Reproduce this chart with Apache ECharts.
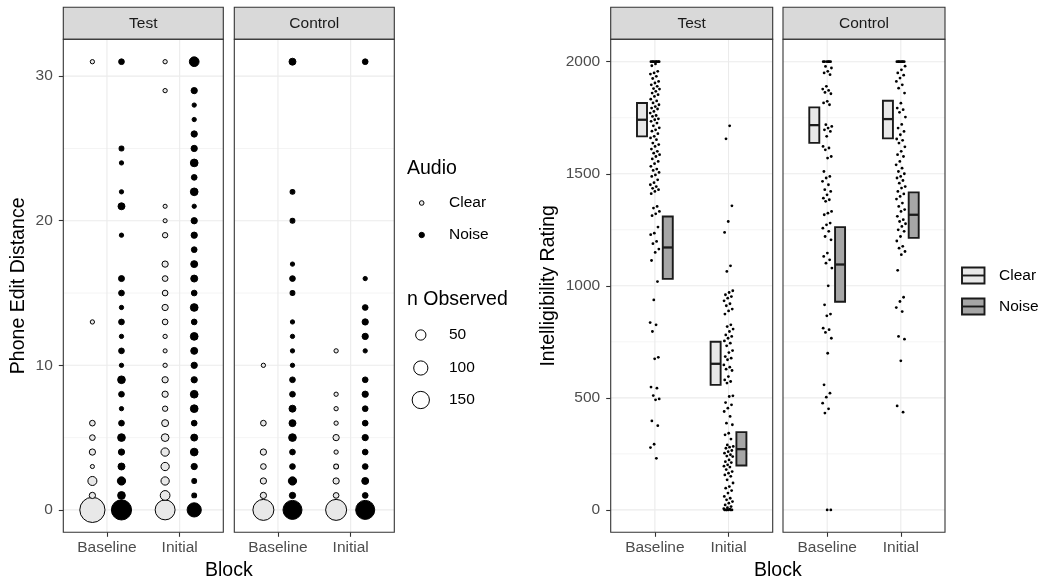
<!DOCTYPE html>
<html>
<head>
<meta charset="utf-8">
<script src="https://cdn.jsdelivr.net/npm/echarts@6/dist/echarts.min.js"></script>
<style>
  html, body { margin: 0; padding: 0; background: #ffffff; }
  #chart { width: 1041px; height: 584px; }
</style>
</head>
<body>
<div id="chart"></div>
<script>
// ---- data ---------------------------------------------------------------
const blocks = ['Baseline', 'Initial'];
const groups = ['Test', 'Control'];
const audio = ['Clear', 'Noise'];
const editTicks = [0, 10, 20, 30];
const editMinor = [5, 15, 25];
const ratingTicks = [0, 500, 1000, 1500, 2000];
const ratingMinor = [250, 750, 1250, 1750];
const sizeBreaks = [50, 100, 150];

// Phone edit distance: [distance, n observed]
const testBaselineClear = [[0,320],[1,14],[2,37],[3,1],[4,14],[5,10],[6,10],[13,2],[31,2]];
const testBaselineNoise = [[0,205],[1,25],[2,30],[3,19],[4,14],[5,25],[6,10],[7,2],[8,10],[9,25],[10,2],[11,10],[12,2],[13,10],[14,2],[15,10],[16,12],[19,2],[21,19],[22,2],[24,2],[25,5],[31,10]];
const testInitialClear = [[0,200],[1,44],[2,30],[3,30],[4,30],[5,25],[6,19],[7,8],[8,14],[9,14],[10,2],[11,1],[12,2],[13,10],[14,14],[15,10],[16,10],[17,14],[19,8],[20,1],[21,1],[29,2],[31,2]];
const testInitialNoise = [[0,100],[1,5],[2,5],[3,14],[4,25],[5,19],[6,10],[7,25],[8,25],[9,14],[10,14],[11,19],[12,25],[13,10],[14,25],[15,10],[16,19],[17,19],[18,10],[19,14],[20,14],[21,2],[22,25],[23,10],[24,25],[25,14],[26,14],[27,2],[28,2],[29,14],[31,44]];
const controlBaselineClear = [[0,222],[1,14],[2,14],[3,10],[4,14],[6,10],[10,2]];
const controlBaselineNoise = [[0,182],[1,14],[2,30],[3,10],[4,10],[5,25],[6,19],[7,19],[8,10],[9,10],[10,2],[11,2],[12,2],[13,2],[15,5],[16,10],[17,2],[20,5],[22,5],[31,19]];
const controlInitialClear = [[0,222],[1,10],[2,14],[3,5],[4,2],[5,14],[6,2],[7,2],[8,2],[11,2]];
const controlInitialNoise = [[0,182],[1,10],[2,19],[3,10],[4,10],[5,14],[6,10],[7,10],[8,14],[9,10],[11,2],[12,14],[13,14],[14,10],[16,2],[31,10]];

// Individual intelligibility ratings
const testBaselineRatings = [2000,2000,2000,2000,2000,2000,2000,2000,1990,1982,1957,1950,1945,1935,1925,1912,1905,1897,1890,1880,1878,1868,1860,1853,1845,1833,1825,1816,1808,1800,1793,1789,1778,1771,1760,1756,1745,1741,1734,1726,1714,1705,1696,1690,1679,1667,1660,1652,1637,1630,1622,1610,1600,1592,1585,1577,1566,1555,1545,1533,1521,1515,1506,1495,1488,1473,1460,1451,1443,1435,1429,1421,1411,1354,1347,1332,1321,1313,1262,1235,1228,1198,1188,1164,1149,1113,1019,937,836,826,796,681,674,548,543,510,495,491,397,376,293,278,230];
const testInitialRatings = [1714,1656,1357,1287,1238,1089,1064,978,970,960,952,945,933,920,911,896,888,874,826,818,807,796,781,774,766,754,744,732,711,702,684,677,670,647,637,628,622,595,580,573,566,509,506,479,469,454,439,417,387,380,342,335,316,290,283,280,275,265,260,253,246,240,238,223,215,211,201,195,191,180,171,164,156,150,134,120,104,97,86,75,60,52,45,37,30,22,15,10,5,3,0,0,0,0,0,0];
const controlBaselineRatings = [2000,2000,2000,2000,2000,2000,1979,1972,1957,1950,1942,1890,1878,1872,1863,1857,1823,1816,1808,1719,1711,1704,1696,1689,1667,1622,1615,1607,1577,1570,1510,1488,1481,1466,1451,1429,1421,1406,1391,1384,1377,1332,1324,1317,1280,1272,1257,1243,1220,1205,1146,1131,1116,1101,1079,1000,915,874,866,811,804,792,766,699,558,521,503,476,451,432,0,0];
const controlInitialRatings = [2000,2000,2000,2000,2000,2000,2000,1980,1964,1950,1940,1927,1912,1897,1882,1860,1815,1793,1786,1774,1753,1720,1704,1689,1674,1655,1649,1637,1620,1600,1585,1577,1555,1540,1525,1510,1500,1488,1481,1470,1458,1443,1436,1421,1410,1399,1387,1369,1354,1340,1332,1310,1295,1287,1277,1265,1250,1243,1220,1200,1176,1168,1153,1139,1069,949,930,903,885,774,762,665,464,436];

// Crossbar summaries: [middle, lower, upper]
const testBaselineClearBar = [1741, 1667, 1816];
const testBaselineNoiseBar = [1171, 1031, 1309];
const testInitialClearBar = [652, 558, 750];
const testInitialNoiseBar = [271, 198, 347];
const controlBaselineClearBar = [1717, 1638, 1796];
const controlBaselineNoiseBar = [1095, 929, 1262];
const controlInitialClearBar = [1744, 1658, 1826];
const controlInitialNoiseBar = [1317, 1214, 1417];

// ---- layout & style -----------------------------------------------------
const FONT = '"Liberation Sans", Arial, Helvetica, sans-serif';
const PANEL_TOP = 39.3, PANEL_H = 493, STRIP_TOP = 7.3;
const leftPanels = [{ left: 63.3, width: 160 }, { left: 234.3, width: 160 }];
const rightPanels = [{ left: 610.7, width: 162 }, { left: 783, width: 162 }];
const panels = leftPanels.concat(rightPanels);
const CLEAR_FILL = '#E8E8E8', NOISE_FILL = '#000000';
const BAR_CLEAR = '#E8E8E8', BAR_NOISE = '#A6A6A6';
const DODGE_PT = 0.2, DODGE_BAR = 0.175, BAR_HALF = 0.068, JITTER = 0.065;

// outer diameter of a count marker (area grows with n)
const obsSize = n => Math.sqrt(24 + 2.07 * n);
// spread rating dots sideways around the block position
const jitter = i => ((((i + 1) * 0.6180339887) % 1) - 0.5) * 2 * JITTER;

const countPoints = (rows, block, offset) => rows.map(([d, n]) => [block + offset, d, n]);
const ratingPoints = (vals, block) => vals.map((v, i) => [block + jitter(i), v]);

// ---- axes ---------------------------------------------------------------
function xAxisFor(gridIndex) {
  return {
    type: 'value', gridIndex, min: 0.4, max: 2.6, position: 'bottom',
    splitLine: { show: false }, axisLine: { show: false, onZero: false },
    axisTick: { show: true, customValues: [1, 2], length: 4.5, lineStyle: { color: '#333333', width: 1.1 } },
    axisLabel: { show: true, customValues: [1, 2], formatter: v => blocks[Math.round(v) - 1],
      color: '#4D4D4D', fontSize: 15.5, fontFamily: FONT, margin: 7 }
  };
}
function yAxisFor(gridIndex, min, max, ticks, showLabels) {
  return {
    type: 'value', gridIndex, min, max, position: 'left',
    splitLine: { show: false }, axisLine: { show: false, onZero: false },
    axisTick: { show: showLabels, customValues: ticks, length: 4.5, lineStyle: { color: '#333333', width: 1.1 } },
    axisLabel: { show: showLabels, customValues: ticks, formatter: v => String(v),
      color: '#4D4D4D', fontSize: 15.5, fontFamily: FONT, margin: 10.5 }
  };
}

// background grid lines: each row is [x, y, vertical?, major?]; the line passes through (x, y)
function gridLineSeries(idx, major, minor, yMid) {
  const rows = [[1, yMid, 1, 1], [2, yMid, 1, 1]]
    .concat(major.map(v => [1.5, v, 0, 1]))
    .concat(minor.map(v => [1.5, v, 0, 0]));
  return {
    type: 'custom', xAxisIndex: idx, yAxisIndex: idx, z: 1, silent: true,
    data: rows,
    renderItem: (params, api) => {
      const cs = params.coordSys;
      const p = api.coord([api.value(0), api.value(1)]);
      const width = api.value(3) ? 1.1 : 0.55;
      const shape = api.value(2)
        ? { x1: p[0], y1: cs.y, x2: p[0], y2: cs.y + cs.height }
        : { x1: cs.x, y1: p[1], x2: cs.x + cs.width, y2: p[1] };
      return { type: 'line', shape, style: { stroke: '#EBEBEB', lineWidth: width } };
    }
  };
}

function countSeries(idx, rowsB, rowsI, offset, fill) {
  return {
    type: 'scatter', xAxisIndex: idx, yAxisIndex: idx, z: 3, silent: true,
    data: countPoints(rowsB, 1, offset).concat(countPoints(rowsI, 2, offset)),
    symbol: 'circle',
    symbolSize: v => obsSize(v[2]) - 1,
    itemStyle: { color: fill, borderColor: '#000000', borderWidth: 1, opacity: 1 }
  };
}

function dotSeries(idx, valsB, valsI) {
  return {
    type: 'scatter', xAxisIndex: idx, yAxisIndex: idx, z: 3, silent: true,
    data: ratingPoints(valsB, 1).concat(ratingPoints(valsI, 2)),
    symbol: 'circle', symbolSize: 2.8,
    itemStyle: { color: '#000000', opacity: 1 }
  };
}

function barSeries(idx, bars) {
  return {
    type: 'custom', xAxisIndex: idx, yAxisIndex: idx, z: 4, silent: true,
    data: bars,
    renderItem: (params, api) => {
      const x = api.value(0), mid = api.value(1), lo = api.value(2), hi = api.value(3);
      const fill = api.value(4) === 0 ? BAR_CLEAR : BAR_NOISE;
      const a = api.coord([x - BAR_HALF, hi]);
      const b = api.coord([x + BAR_HALF, lo]);
      const m1 = api.coord([x - BAR_HALF, mid]);
      const m2 = api.coord([x + BAR_HALF, mid]);
      return {
        type: 'group',
        children: [
          { type: 'rect', shape: { x: a[0], y: a[1], width: b[0] - a[0], height: b[1] - a[1] },
            style: { fill, stroke: '#1A1A1A', lineWidth: 1.9 } },
          { type: 'line', shape: { x1: m1[0], y1: m1[1], x2: m2[0], y2: m2[1] },
            style: { stroke: '#1A1A1A', lineWidth: 2.3 } }
        ]
      };
    }
  };
}
const barRow = (block, offset, stats, a) => [block + offset, stats[0], stats[1], stats[2], a];

// ---- frame, strips, titles, legends --------------------------------------
const graphics = [];
const stripLabels = groups.concat(groups);
panels.forEach((p, i) => {
  graphics.push({ type: 'rect', silent: true, z: 100,
    shape: { x: p.left, y: STRIP_TOP, width: p.width, height: PANEL_TOP - STRIP_TOP },
    style: { fill: '#D9D9D9', stroke: '#333333', lineWidth: 1.1 } });
  graphics.push({ type: 'text', silent: true, z: 101, x: p.left + p.width / 2, y: (STRIP_TOP + PANEL_TOP) / 2 + 0.5,
    style: { text: stripLabels[i], fill: '#1A1A1A', font: '15.5px ' + FONT, align: 'center', verticalAlign: 'middle' } });
  graphics.push({ type: 'rect', silent: true, z: 100,
    shape: { x: p.left, y: PANEL_TOP, width: p.width, height: PANEL_H },
    style: { fill: 'none', stroke: '#333333', lineWidth: 1.1 } });
});
const titleFont = '19.5px ' + FONT;
const midY = PANEL_TOP + PANEL_H / 2;
graphics.push({ type: 'text', silent: true, x: 19, y: midY, rotation: Math.PI / 2,
  style: { text: 'Phone Edit Distance', fill: '#000000', font: titleFont, align: 'center', verticalAlign: 'middle' } });
graphics.push({ type: 'text', silent: true, x: 548.5, y: midY, rotation: Math.PI / 2,
  style: { text: 'Intelligibility Rating', fill: '#000000', font: titleFont, align: 'center', verticalAlign: 'middle' } });
graphics.push({ type: 'text', silent: true, x: (leftPanels[0].left + leftPanels[1].left + leftPanels[1].width) / 2, y: 571,
  style: { text: 'Block', fill: '#000000', font: titleFont, align: 'center', verticalAlign: 'middle' } });
graphics.push({ type: 'text', silent: true, x: (rightPanels[0].left + rightPanels[1].left + rightPanels[1].width) / 2, y: 571,
  style: { text: 'Block', fill: '#000000', font: titleFont, align: 'center', verticalAlign: 'middle' } });

// Audio / n Observed legend
const legFont = '15.5px ' + FONT;
graphics.push({ type: 'text', silent: true, x: 407, y: 169,
  style: { text: 'Audio', fill: '#000000', font: titleFont, align: 'left', verticalAlign: 'middle' } });
[[CLEAR_FILL, 203, 5.6], [NOISE_FILL, 235, 6.4]].forEach(([fill, y, d], i) => {
  graphics.push({ type: 'circle', silent: true, shape: { cx: 421.7, cy: y, r: (d - 1) / 2 },
    style: { fill, stroke: '#000000', lineWidth: 1 } });
  graphics.push({ type: 'text', silent: true, x: 449, y,
    style: { text: audio[i], fill: '#000000', font: legFont, align: 'left', verticalAlign: 'middle' } });
});
graphics.push({ type: 'text', silent: true, x: 407, y: 300,
  style: { text: 'n Observed', fill: '#000000', font: titleFont, align: 'left', verticalAlign: 'middle' } });
sizeBreaks.forEach((n, i) => {
  const y = [335, 368, 400][i];
  graphics.push({ type: 'circle', silent: true, shape: { cx: 420.8, cy: y, r: (obsSize(n) - 1) / 2 },
    style: { fill: '#FFFFFF', stroke: '#000000', lineWidth: 1 } });
  graphics.push({ type: 'text', silent: true, x: 449, y,
    style: { text: String(n), fill: '#000000', font: legFont, align: 'left', verticalAlign: 'middle' } });
});

// crossbar legend
[[BAR_CLEAR, 275.5], [BAR_NOISE, 306.5]].forEach(([fill, y], i) => {
  graphics.push({ type: 'rect', silent: true, shape: { x: 962, y: y - 8, width: 22.5, height: 16 },
    style: { fill, stroke: '#1A1A1A', lineWidth: 1.9 } });
  graphics.push({ type: 'line', silent: true, shape: { x1: 962, y1: y, x2: 984.5, y2: y },
    style: { stroke: '#1A1A1A', lineWidth: 1.9 } });
  graphics.push({ type: 'text', silent: true, x: 999, y,
    style: { text: audio[i], fill: '#000000', font: legFont, align: 'left', verticalAlign: 'middle' } });
});

// ---- chart --------------------------------------------------------------
const chart = echarts.init(document.getElementById('chart'), null, { renderer: 'canvas' });
chart.setOption({
  animation: false,
  backgroundColor: '#ffffff',
  textStyle: { fontFamily: FONT },
  grid: panels.map(p => ({ left: p.left, top: PANEL_TOP, width: p.width, height: PANEL_H, show: false })),
  xAxis: [0, 1, 2, 3].map(xAxisFor),
  yAxis: [
    yAxisFor(0, -1.55, 32.55, editTicks, true),
    yAxisFor(1, -1.55, 32.55, editTicks, false),
    yAxisFor(2, -100, 2100, ratingTicks, true),
    yAxisFor(3, -100, 2100, ratingTicks, false)
  ],
  series: [
    gridLineSeries(0, editTicks, editMinor, 15),
    gridLineSeries(1, editTicks, editMinor, 15),
    gridLineSeries(2, ratingTicks, ratingMinor, 1000),
    gridLineSeries(3, ratingTicks, ratingMinor, 1000),

    countSeries(0, testBaselineClear, testInitialClear, -DODGE_PT, CLEAR_FILL),
    countSeries(0, testBaselineNoise, testInitialNoise, DODGE_PT, NOISE_FILL),
    countSeries(1, controlBaselineClear, controlInitialClear, -DODGE_PT, CLEAR_FILL),
    countSeries(1, controlBaselineNoise, controlInitialNoise, DODGE_PT, NOISE_FILL),

    dotSeries(2, testBaselineRatings, testInitialRatings),
    dotSeries(3, controlBaselineRatings, controlInitialRatings),

    barSeries(2, [
      barRow(1, -DODGE_BAR, testBaselineClearBar, 0), barRow(1, DODGE_BAR, testBaselineNoiseBar, 1),
      barRow(2, -DODGE_BAR, testInitialClearBar, 0), barRow(2, DODGE_BAR, testInitialNoiseBar, 1)
    ]),
    barSeries(3, [
      barRow(1, -DODGE_BAR, controlBaselineClearBar, 0), barRow(1, DODGE_BAR, controlBaselineNoiseBar, 1),
      barRow(2, -DODGE_BAR, controlInitialClearBar, 0), barRow(2, DODGE_BAR, controlInitialNoiseBar, 1)
    ])
  ],
  graphic: graphics
});
</script>
</body>
</html>
